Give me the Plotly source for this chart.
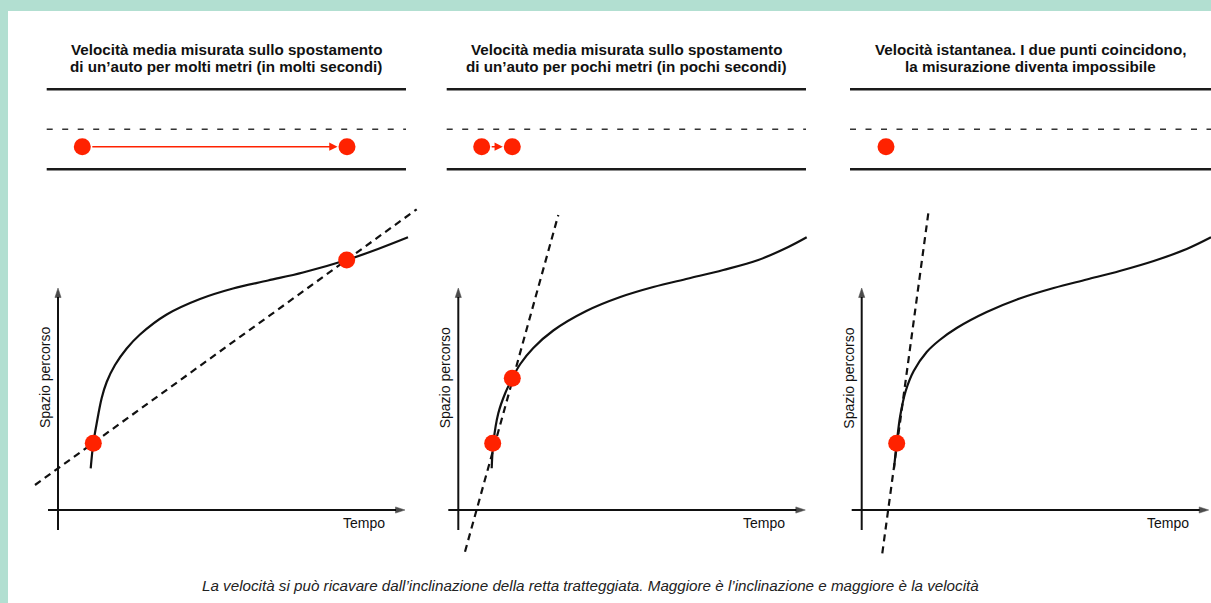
import plotly.graph_objects as go

# ---------------- data ----------------
TITLES = [
    ["Velocità media misurata sullo spostamento", "di un’auto per molti metri (in molti secondi)"],
    ["Velocità media misurata sullo spostamento", "di un’auto per pochi metri (in pochi secondi)"],
    ["Velocità istantanea. I due punti coincidono,", "la misurazione diventa impossibile"],
]
X_LABEL = "Tempo"
Y_LABEL = "Spazio percorso"
CAPTION = ("La velocità si può ricavare dall’inclinazione della retta tratteggiata. "
           "Maggiore è l’inclinazione e maggiore è la velocità")

# space-time curve (tempo, spazio) read for each panel
curve1_t = [32.7, 35.3, 38.7, 43.7, 48.7, 57, 68.7, 82, 108.7, 142, 175, 210, 245, 288.7, 320, 350]
curve1_s = [41.7, 66.7, 86.7, 112, 128, 145, 161.5, 175.5, 195.5, 211, 221.5, 229.5, 237.5, 250, 261, 272.7]
curve2_t = [33.4, 35, 40, 47, 54, 62, 75, 95, 128, 162, 195, 230, 265, 300, 330, 348.4]
curve2_s = [41.7, 66.7, 96.7, 117, 131.7, 146, 162, 179.5, 199, 213, 223, 231.5, 240, 250, 263, 272.7]
curve3_t = [32.3, 35, 38.5, 44, 52, 65, 78, 95, 125, 158, 192, 225, 258, 292, 325, 349.3]
curve3_s = [41.7, 66.7, 94, 119, 139, 158, 170, 182, 198, 211.5, 222, 230.5, 239, 249, 261, 272.7]

# dashed (secant / tangent) line end points
line1_t = [-23, 358.7]
line1_s = [25, 300.7]
line2_t = [6.7, 100]
line2_s = [-41.7, 295]
line3_t = [20.6, 66.6]
line3_s = [-43.3, 296.7]

# measured points on the curve
pts1_t = [35.3, 288.7]
pts1_s = [66.7, 250]
pts2_t = [34.4, 54]
pts2_s = [66.7, 131.7]
pts3_t = [35]
pts3_s = [66.7]

# car positions on the road
cars1 = [24.3, 289]
cars2 = [23.4, 54]
cars3 = [24.3]

# ---------------- layout helpers ----------------
W, H = 1211, 603
MINT = "#b2dfd1"
RED = "#ff2200"
INK = "#111111"
FONT = "Liberation Sans, Arial, sans-serif"

panels = [
    dict(curve=(curve1_t, curve1_s), line=(line1_t, line1_s), pts=(pts1_t, pts1_s), cars=cars1,
         dom=(20, 425), ox=58, road=(-11.3, 348)),
    dict(curve=(curve2_t, curve2_s), line=(line2_t, line2_s), pts=(pts2_t, pts2_s), cars=cars2,
         dom=(425, 830), ox=458.3, road=(-11.6, 347.7)),
    dict(curve=(curve3_t, curve3_s), line=(line3_t, line3_s), pts=(pts3_t, pts3_s), cars=cars3,
         dom=(830, 1211), ox=861.7, road=(-11.7, 352)),
]
title_cx = [226.3, 626.3, 1030]

OY = 510             # pixel row of the time axis
GRAPH_PX = (195, 565)
ROAD_PX = (75, 185)
ROAD_BASE = 169.3    # pixel row of the lower road edge
ROAD_W = 80
CAR_Y = 22.6
DOT = 17

fig = go.Figure()
layout = dict(
    width=W, height=H, margin=dict(l=0, r=0, t=0, b=0),
    paper_bgcolor=MINT, plot_bgcolor="rgba(0,0,0,0)", showlegend=False,
    font=dict(family=FONT, color=INK),
)
annotations = []
shapes = [dict(type="rect", xref="paper", yref="paper", x0=8 / W, x1=1.0, y0=0, y1=1 - 11 / H,
               fillcolor="white", line=dict(width=0), layer="below")]

hidden = dict(showgrid=False, zeroline=False, showticklabels=False, ticks="", showline=False, fixedrange=True)

for i, p in enumerate(panels):
    k = i + 1
    xa = "x" if k == 1 else f"x{k}"
    ya = "y" if k == 1 else f"y{k}"
    yr = f"y{k + 3}"
    d0, d1 = p["dom"]
    ox = p["ox"]
    layout[f"xaxis{'' if k == 1 else k}"] = dict(
        domain=[d0 / W, d1 / W], range=[d0 - ox, d1 - ox], anchor=ya, **hidden)
    layout[f"yaxis{'' if k == 1 else k}"] = dict(
        domain=[1 - GRAPH_PX[1] / H, 1 - GRAPH_PX[0] / H],
        range=[OY - GRAPH_PX[1], OY - GRAPH_PX[0]], anchor=xa, **hidden)
    layout[f"yaxis{k + 3}"] = dict(
        domain=[1 - ROAD_PX[1] / H, 1 - ROAD_PX[0] / H],
        range=[ROAD_BASE - ROAD_PX[1], ROAD_BASE - ROAD_PX[0]], anchor=xa, **hidden)

    # road
    r0, r1 = p["road"]
    for yy in (0, ROAD_W):
        fig.add_trace(go.Scatter(x=[r0, r1], y=[yy, yy], mode="lines", xaxis=xa, yaxis=yr,
                                 line=dict(color="#1a1a1a", width=2.5), hoverinfo="skip"))
    fig.add_trace(go.Scatter(x=[r0, r1], y=[ROAD_W / 2] * 2, mode="lines", xaxis=xa, yaxis=yr,
                             line=dict(color="#333333", width=1.4, dash="6px,9.5px"), hoverinfo="skip"))
    cars = p["cars"]
    if len(cars) > 1:
        annotations.append(dict(x=cars[1] - DOT / 2, y=CAR_Y, ax=cars[0] + DOT / 2, ay=CAR_Y,
                                xref=xa, yref=yr, axref=xa, ayref=yr, text="", showarrow=True,
                                arrowhead=2, arrowsize=1.1, arrowwidth=1.5, arrowcolor=RED,
                                standoff=1, startstandoff=0))
    fig.add_trace(go.Scatter(x=cars, y=[CAR_Y] * len(cars), mode="markers", xaxis=xa, yaxis=yr,
                             marker=dict(size=DOT, color=RED, line=dict(width=0)), hoverinfo="skip"))

    # axes with arrowheads
    fig.add_trace(go.Scatter(x=[-10, 347], y=[0, 0], mode="lines+markers", xaxis=xa, yaxis=ya,
                             line=dict(color=INK, width=2),
                             marker=dict(symbol=["circle", "arrow"], size=[0, 10], angleref="previous",
                                         color="#000000", line=dict(width=0.5, color="#000000")),
                             hoverinfo="skip"))
    fig.add_trace(go.Scatter(x=[0, 0], y=[-20, 222], mode="lines+markers", xaxis=xa, yaxis=ya,
                             line=dict(color=INK, width=2),
                             marker=dict(symbol=["circle", "arrow"], size=[0, 10], angleref="previous",
                                         color="#000000", line=dict(width=0.5, color="#000000")),
                             hoverinfo="skip"))

    # curve
    ct, cs = p["curve"]
    fig.add_trace(go.Scatter(x=ct, y=cs, mode="lines", xaxis=xa, yaxis=ya,
                             line=dict(color=INK, width=2.2, shape="spline", smoothing=1.0),
                             hoverinfo="skip"))
    # dashed line
    lt, ls = p["line"]
    fig.add_trace(go.Scatter(x=lt, y=ls, mode="lines", xaxis=xa, yaxis=ya,
                             line=dict(color=INK, width=2.2, dash="7px,5px"), hoverinfo="skip"))
    # points
    pt, ps = p["pts"]
    fig.add_trace(go.Scatter(x=pt, y=ps, mode="markers", xaxis=xa, yaxis=ya,
                             marker=dict(size=DOT, color=RED, line=dict(width=0)), hoverinfo="skip"))

    # labels
    annotations.append(dict(text=X_LABEL, x=329, y=-13, xref=xa, yref=ya, xanchor="right", yanchor="middle",
                            showarrow=False, font=dict(size=14, color=INK)))
    annotations.append(dict(text=Y_LABEL, x=-13, y=132, xref=xa, yref=ya, xanchor="center", yanchor="middle",
                            textangle=-90, showarrow=False, font=dict(size=14, color=INK)))
    for j, txt in enumerate(TITLES[i]):
        annotations.append(dict(text=f"<b>{txt}</b>", x=title_cx[i] / W, y=1 - (49.3 + 17.4 * j) / H,
                                xref="paper", yref="paper", xanchor="center", yanchor="middle",
                                showarrow=False, font=dict(size=15.2, color=INK)))

annotations.append(dict(text=f"<i>{CAPTION}</i>", x=590 / W, y=1 - 585 / H, xref="paper", yref="paper",
                        xanchor="center", yanchor="middle", showarrow=False,
                        font=dict(size=15.2, color="#222222")))

layout["annotations"] = annotations
layout["shapes"] = shapes
fig.update_layout(**layout)
fig.write_html("out.html", config={"displayModeBar": False},
               post_script="document.body.style.margin='0';document.body.style.padding='0';")
